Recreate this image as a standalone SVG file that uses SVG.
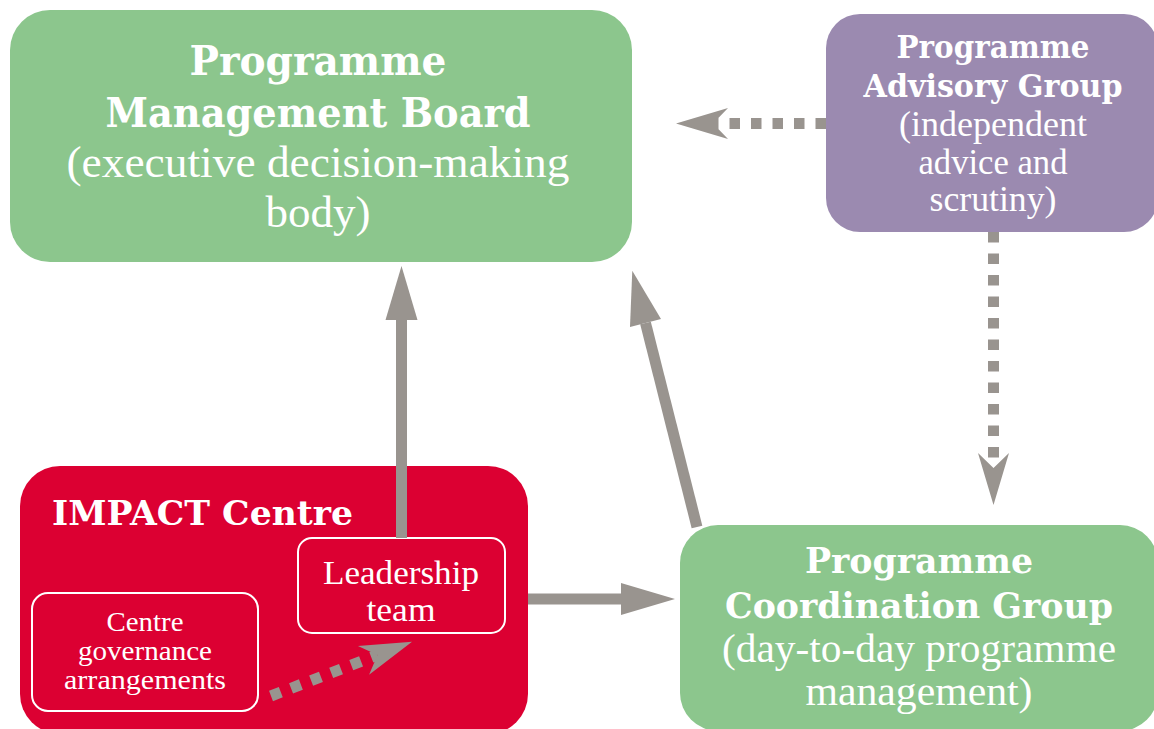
<svg xmlns="http://www.w3.org/2000/svg" width="1154" height="729" viewBox="0 0 1154 729">
<defs>
<style>
.green{fill:#8cc68d}
.purple{fill:#9b8ab0}
.red{fill:#dc0032}
.inner{fill:none;stroke:#ffffff;stroke-width:2}
.b{font-family:"DejaVu Serif","Liberation Serif",serif;font-weight:bold;fill:#ffffff}
.r{font-family:"Liberation Serif","DejaVu Serif",serif;fill:#ffffff}
.solid{stroke:#99948f;stroke-width:11;fill:none}
.dot{stroke:#99948f;stroke-width:11;fill:none;stroke-dasharray:10.5 11}
</style>
<marker id="head" markerUnits="userSpaceOnUse" markerWidth="54" markerHeight="32" refX="0" refY="16" orient="auto" overflow="visible">
<path d="M0,0 L54,16 L0,32 Z" fill="#99948f"/>
</marker>
<marker id="barb" markerUnits="userSpaceOnUse" markerWidth="52" markerHeight="31" refX="15" refY="15.5" orient="auto" overflow="visible">
<path d="M0,0 L52,15.5 L0,31 L15,15.5 Z" fill="#99948f"/>
</marker>
</defs>

<g id="node-pmb">
<rect class="green" x="10" y="10" width="622" height="252" rx="40"/>
<text class="b" x="318" y="75" font-size="41" text-anchor="middle" textLength="257" lengthAdjust="spacingAndGlyphs">Programme</text>
<text class="b" x="318" y="127" font-size="41" text-anchor="middle" textLength="425" lengthAdjust="spacingAndGlyphs">Management Board</text>
<text class="r" x="318" y="177" font-size="45" text-anchor="middle" textLength="503" lengthAdjust="spacingAndGlyphs">(executive decision-making</text>
<text class="r" x="318" y="227" font-size="45" text-anchor="middle" textLength="105" lengthAdjust="spacingAndGlyphs">body)</text>
</g>

<g id="node-pag">
<rect class="purple" x="826" y="14" width="332" height="218" rx="34"/>
<text class="b" x="993" y="58" font-size="31" text-anchor="middle" textLength="193" lengthAdjust="spacingAndGlyphs">Programme</text>
<text class="b" x="993" y="97" font-size="31" text-anchor="middle" textLength="259" lengthAdjust="spacingAndGlyphs">Advisory Group</text>
<text class="r" x="993" y="136" font-size="35" text-anchor="middle" textLength="188" lengthAdjust="spacingAndGlyphs">(independent</text>
<text class="r" x="993" y="174" font-size="35" text-anchor="middle" textLength="149" lengthAdjust="spacingAndGlyphs">advice and</text>
<text class="r" x="993" y="211" font-size="35" text-anchor="middle" textLength="127" lengthAdjust="spacingAndGlyphs">scrutiny)</text>
</g>

<g id="node-impact">
<rect class="red" x="20" y="466" width="508" height="268" rx="40"/>
<text class="b" x="52" y="525" font-size="33" textLength="301" lengthAdjust="spacingAndGlyphs">IMPACT Centre</text>
</g>

<g id="node-leadership">
<rect class="inner" x="298" y="538" width="207" height="95" rx="14"/>
<text class="r" x="401" y="584" font-size="33" text-anchor="middle" textLength="156" lengthAdjust="spacingAndGlyphs">Leadership</text>
<text class="r" x="401" y="621" font-size="33" text-anchor="middle" textLength="69" lengthAdjust="spacingAndGlyphs">team</text>
</g>

<g id="node-governance">
<rect class="inner" x="32" y="593" width="226" height="118" rx="16"/>
<text class="r" x="145" y="631" font-size="27" text-anchor="middle" textLength="77" lengthAdjust="spacingAndGlyphs">Centre</text>
<text class="r" x="145" y="660" font-size="27" text-anchor="middle" textLength="134" lengthAdjust="spacingAndGlyphs">governance</text>
<text class="r" x="145" y="689" font-size="27" text-anchor="middle" textLength="162" lengthAdjust="spacingAndGlyphs">arrangements</text>
</g>

<g id="node-pcg">
<rect class="green" x="680" y="525" width="478" height="206" rx="38"/>
<text class="b" x="919" y="573" font-size="36" text-anchor="middle" textLength="228" lengthAdjust="spacingAndGlyphs">Programme</text>
<text class="b" x="919" y="618" font-size="36" text-anchor="middle" textLength="388" lengthAdjust="spacingAndGlyphs">Coordination Group</text>
<text class="r" x="919" y="662" font-size="41" text-anchor="middle" textLength="394" lengthAdjust="spacingAndGlyphs">(day-to-day programme</text>
<text class="r" x="919" y="705" font-size="41" text-anchor="middle" textLength="227" lengthAdjust="spacingAndGlyphs">management)</text>
</g>

<g id="connectors">
<path class="solid" d="M401.5,538 L401.5,320" marker-end="url(#head)"/>
<path class="solid" d="M697,527 L645.5,323" marker-end="url(#head)"/>
<path class="solid" d="M528,599 L621,599" marker-end="url(#head)"/>
<path class="dot" d="M826,123.5 L713,123.5" marker-end="url(#barb)"/>
<path class="dot" d="M993.5,232 L993.5,468" marker-end="url(#barb)"/>
<path class="dot" d="M271,696 L377.5,655" marker-end="url(#barb)"/>
</g>
</svg>
